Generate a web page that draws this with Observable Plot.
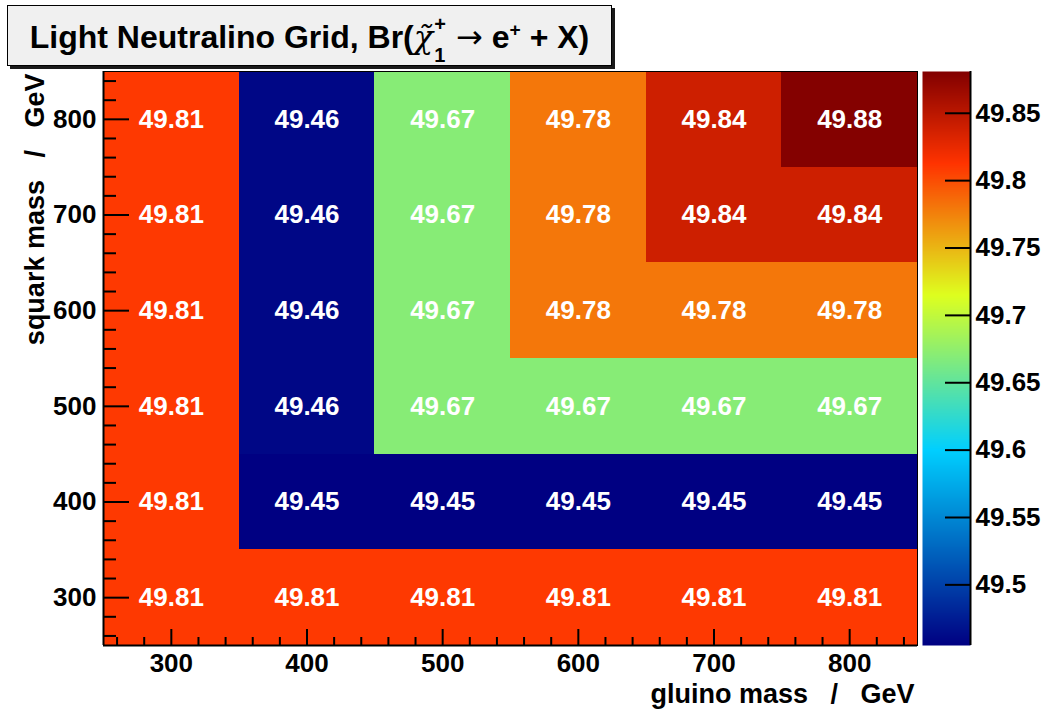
<!DOCTYPE html>
<html>
<head>
<meta charset="utf-8">
<script src="https://cdn.jsdelivr.net/npm/d3@7"></script>
<script src="https://cdn.jsdelivr.net/npm/@observablehq/plot@0.6"></script>
<style>
  html, body { margin: 0; padding: 0; background: #fff; }
  #chart { position: relative; width: 1053px; height: 713px; font-family: "Liberation Sans", Arial, Helvetica, sans-serif; }
  #chart svg { position: absolute; left: 0; top: 0; }
  #chart svg text { white-space: pre; }
  #title {
    position: absolute; left: 7px; top: 5px; width: 603px; height: 59px;
    background: #f0f0f0; border: 1px solid #000; box-shadow: 3px 3px 0 #1a1a1a;
    font-weight: bold; font-size: 32px; color: #000; z-index: 2;
    display: flex; align-items: center; justify-content: center;
  }
  #title .txt { white-space: pre; }
  #title .chi { font-weight: normal; font-family: "DejaVu Serif", serif; font-style: italic; }
  #title .ss { display: inline-block; position: relative; width: 14px; height: 32px; }
  #title .ss span { position: absolute; left: 1px; font-size: 20px; line-height: 23px; }
  #title .ss .sup { top: -3px; }
  #title .ss .sub { top: 28px; }
  #title .arrow { font-weight: normal; font-family: "DejaVu Sans", sans-serif; }
  #title sup { font-size: 0.6em; vertical-align: 0.6em; line-height: 0; }
</style>
</head>
<body>
<div id="chart">
  <div id="title"><span class="txt">Light Neutralino Grid, Br(<span class="chi">χ̃</span><span class="ss"><span class="sup">+</span><span class="sub">1</span></span> <span class="arrow">→</span> e<sup>+</sup> + X)</span></div>
</div>
<script>
// Grid axes (bin centres, GeV)
const gluinoMass = [300, 400, 500, 600, 700, 800];
const squarkMass = [800, 700, 600, 500, 400, 300];

// Branching ratio (%) per squark-mass row, ordered by gluino mass
const br800 = [49.81, 49.46, 49.67, 49.78, 49.84, 49.88];
const br700 = [49.81, 49.46, 49.67, 49.78, 49.84, 49.84];
const br600 = [49.81, 49.46, 49.67, 49.78, 49.78, 49.78];
const br500 = [49.81, 49.46, 49.67, 49.67, 49.67, 49.67];
const br400 = [49.81, 49.45, 49.45, 49.45, 49.45, 49.45];
const br300 = [49.81, 49.81, 49.81, 49.81, 49.81, 49.81];
const brRows = [br800, br700, br600, br500, br400, br300];

// Axis ticks
const massTicks = [300, 400, 500, 600, 700, 800];
const massMinorTicks = d3.range(260, 850, 20).filter(v => v % 100 !== 0);
const zTicks = [49.5, 49.55, 49.6, 49.65, 49.7, 49.75, 49.8, 49.85];

// Axis ranges
const massDomain = [250, 850];
const binWidth = 100;
const zDomain = [49.455, 49.881];

// Rainbow palette stops (fractions of the z range) and colours
const paletteStops = [0, 0.34, 0.61, 0.84, 1];
const paletteColors = ["#000082", "#00cfff", "#deff1f", "#ff3300", "#820000"];

const cells = [];
squarkMass.forEach((s, r) => gluinoMass.forEach((g, c) => cells.push({g, s, v: brRows[r][c]})));

const W = 1053, H = 713;
const frame = {left: 103, right: 917, top: 71, bottom: 645};
const plotW = frame.right - frame.left, plotH = frame.bottom - frame.top;

const color = {
  type: "linear",
  domain: paletteStops.map(p => zDomain[0] + p * (zDomain[1] - zDomain[0])),
  range: paletteColors,
  interpolate: "rgb",
  clamp: true
};

const font = {fontFamily: "'Liberation Sans', Arial, Helvetica, sans-serif", fontSize: "26px", fontWeight: "bold", background: "transparent", color: "#000", overflow: "visible"};

const main = Plot.plot({
  width: W, height: H,
  marginLeft: frame.left, marginRight: W - frame.right, marginTop: frame.top, marginBottom: H - frame.bottom,
  style: font,
  x: {type: "linear", domain: massDomain, axis: null},
  y: {type: "linear", domain: massDomain, axis: null},
  color,
  marks: [
    Plot.rect(cells, {
      x1: d => d.g - binWidth / 2, x2: d => d.g + binWidth / 2,
      y1: d => d.s - binWidth / 2, y2: d => d.s + binWidth / 2,
      fill: "v", shapeRendering: "crispEdges"
    }),
    Plot.text(cells, {x: "g", y: "s", text: d => d.v.toFixed(2), fill: "white", fontSize: 26, fontWeight: "bold"}),
    Plot.frame({stroke: "#000", strokeWidth: 1}),
    Plot.ruleX([massDomain[0]], {stroke: "#000", strokeWidth: 2}),
    Plot.ruleY([massDomain[0]], {stroke: "#000", strokeWidth: 2}),
    // ticks drawn inside the frame
    Plot.tickX(massTicks, {x: d => d, stroke: "#000", strokeWidth: 2, insetTop: plotH - 16}),
    Plot.tickX(massMinorTicks, {x: d => d, stroke: "#000", strokeWidth: 2, insetTop: plotH - 8}),
    Plot.tickY(massTicks, {y: d => d, stroke: "#000", strokeWidth: 2, insetRight: plotW - 26}),
    Plot.tickY(massMinorTicks, {y: d => d, stroke: "#000", strokeWidth: 2, insetRight: plotW - 13}),
    Plot.axisX(massTicks, {tickSize: 0, tickPadding: 8, fontSize: 26, fontWeight: "bold", label: null}),
    Plot.axisY(massTicks, {tickSize: 0, tickPadding: 7, fontSize: 26, fontWeight: "bold", label: null}),
    Plot.text(["gluino mass   /   GeV"], {frameAnchor: "bottom-right", textAnchor: "end", lineAnchor: "bottom", dx: -3, dy: 57, fontSize: 27, fontWeight: "bold"}),
    Plot.text(["squark mass   /   GeV"], {frameAnchor: "top-left", textAnchor: "end", lineAnchor: "bottom", rotate: -90, dx: -60, dy: 2, fontSize: 27, fontWeight: "bold"})
  ]
});

// Colour bar
const bar = {left: 922, right: 970};
const colorbar = Plot.plot({
  width: W, height: H,
  marginLeft: bar.left, marginRight: W - bar.right, marginTop: frame.top, marginBottom: H - frame.bottom,
  style: font,
  x: {type: "linear", domain: [0, 1], axis: null},
  y: {type: "linear", domain: zDomain, axis: null},
  color,
  marks: [
    Plot.raster({fill: (x, y) => y, x1: 0, x2: 1, y1: zDomain[0], y2: zDomain[1], width: 1, height: plotH, interpolate: "none"}),
    Plot.ruleX([1], {stroke: "#000", strokeWidth: 2}),
    Plot.tickY(zTicks, {y: d => d, stroke: "#000", strokeWidth: 2, insetLeft: (bar.right - bar.left) - 25}),
    Plot.axisY(zTicks, {anchor: "right", tickSize: 0, tickPadding: 5, fontSize: 26, fontWeight: "bold", label: null, tickFormat: d => String(+d.toFixed(2))})
  ]
});

const chart = document.getElementById("chart");
chart.appendChild(main);
chart.appendChild(colorbar);
</script>
</body>
</html>
